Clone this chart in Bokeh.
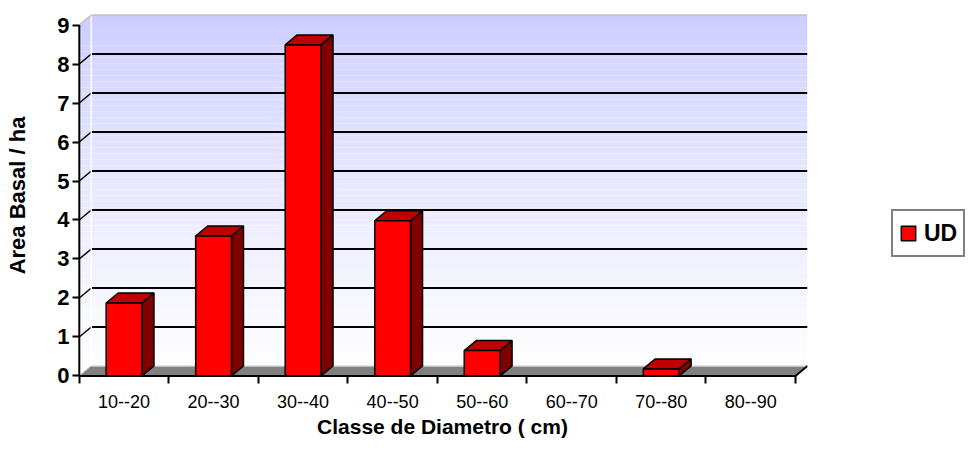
from bokeh.plotting import figure
from bokeh.models import Range1d, FixedTicker, Legend, LegendItem, ColumnDataSource
from bokeh.embed import file_html
from bokeh.resources import INLINE

# ---------------- data ----------------
categories = ["10--20", "20--30", "30--40", "40--50", "50--60", "60--70", "70--80", "80--90"]
values = [1.87, 3.59, 8.49, 3.98, 0.65, 0.0, 0.18, 0.0]
y_ticks = [0, 1, 2, 3, 4, 5, 6, 7, 8, 9]
series_name = "UD"
x_title = "Classe de Diametro ( cm)"
y_title = "Area Basal / ha"

# ---------------- style / geometry ----------------
FONT = "Liberation Sans"
PX_CAT = 89.5          # px per category
PX_UNIT = 39.0         # px per y unit
DX = 12 / PX_CAT       # 3D depth offset (x) in data units
DY = 10 / PX_UNIT      # 3D depth offset (y) in data units
BAR_W = 0.4
PADX = 0.02
PADY = 0.04
n = len(categories)
YMAX = max(y_ticks)
centers = [i + 1 for i in range(n)]

x0, x1 = 0.5 - PADX, n + 0.5 + DX
y0, y1 = -PADY, YMAX + DY + PADY
frame_w = round((x1 - x0) * PX_CAT)
frame_h = round((y1 - y0) * PX_UNIT)
W, H = 962, 436
left_b, top_b = 77, 13
right_b = W - left_b - frame_w
bottom_b = H - top_b - frame_h

p = figure(frame_width=frame_w, frame_height=frame_h,
           x_range=Range1d(x0, x1), y_range=Range1d(y0, y1),
           output_backend="svg", toolbar_location=None,
           min_border_left=left_b, min_border_top=top_b,
           min_border_right=right_b, min_border_bottom=bottom_b)
p.outline_line_color = None
p.background_fill_color = "white"
p.grid.visible = False

# ---- wall gradient (top #ccccff -> bottom white) ----
N = 60
gx_l, gx_r = 0.5, n + 0.5 + DX
g_b, g_t = 0.0, YMAX + DY
tops, bots, cols = [], [], []
for k in range(N):
    b = g_b + (g_t - g_b) * k / N
    t = g_b + (g_t - g_b) * (k + 1) / N
    f = 1 - (k + 0.5) / N   # 1 at bottom, 0 at top
    r = round(204 + (255 - 204) * f ** 0.8)
    cols.append("#%02x%02xff" % (r, r))
    bots.append(b)
    tops.append(t)
p.quad(left=gx_l, right=gx_r, bottom=bots, top=tops, fill_color=cols, line_color=None)
# white corners outside the walls
p.patch([0.5 - PADX, 0.5, 0.5 + DX, 0.5 + DX, 0.5 - PADX],
        [YMAX, YMAX, YMAX + DY, y1, y1], fill_color="white", line_color=None)
p.patch([n + 0.5, n + 0.5 + DX, n + 0.5 + DX], [0, 0, DY], fill_color="white", line_color=None)

# ---- floor ----
p.patch([0.5, n + 0.5, n + 0.5 + DX, 0.5 + DX], [0, 0, DY, DY], fill_color="#808080", line_color=None)
p.segment(x0=[0.5 + DX], y0=[DY], x1=[n + 0.5 + DX], y1=[DY], line_color="#d8d8d8", line_width=1.5)
p.segment(x0=[0.5], y0=[0], x1=[0.5 + DX], y1=[DY], line_color="#b0b0b0", line_width=1)

# ---- gridlines (back wall + left wall) ----
gk = [k for k in y_ticks if 0 < k < YMAX]
p.segment(x0=[0.5 + DX] * len(gk), y0=[k + DY for k in gk], x1=[n + 0.5 + DX] * len(gk),
          y1=[k + DY for k in gk], line_color="black", line_width=2)
p.segment(x0=[0.5] * len(gk), y0=gk, x1=[0.5 + DX] * len(gk), y1=[k + DY for k in gk],
          line_color="black", line_width=1.5)
# wall corner and top edge
p.segment(x0=[0.5 + DX], y0=[DY], x1=[0.5 + DX], y1=[YMAX + DY], line_color="white", line_width=1.5)
p.segment(x0=[0.5, 0.5 + DX], y0=[YMAX, YMAX + DY], x1=[0.5 + DX, n + 0.5 + DX],
          y1=[YMAX + DY, YMAX + DY], line_color="#c0c0c0", line_width=1.5)

# ---- axes lines (front plane) ----
p.segment(x0=[0.5], y0=[0], x1=[0.5], y1=[YMAX], line_color="black", line_width=2)

# ---- bars (3D) ----
bx = [c for c, v in zip(centers, values) if v > 0]
bv = [v for v in values if v > 0]
L = [c - BAR_W / 2 for c in bx]
R = [c + BAR_W / 2 for c in bx]
side_xs = [[r, r + DX, r + DX, r] for r in R]
side_ys = [[0, DY, v + DY, v] for v in bv]
top_xs = [[l, r, r + DX, l + DX] for l, r in zip(L, R)]
top_ys = [[v, v, v + DY, v + DY] for v in bv]
p.patches(side_xs, side_ys, fill_color="#800000", line_color="black", line_width=1.5)
p.patches(top_xs, top_ys, fill_color="#c00000", line_color="black", line_width=1.5)
src = ColumnDataSource(dict(left=L, right=R, top=bv, bottom=[0] * len(bv)))
front = p.quad(left="left", right="right", top="top", bottom="bottom", source=src,
               fill_color="#ff0000", line_color="black", line_width=1.5)

p.segment(x0=[0.5, n + 0.5], y0=[0, 0], x1=[n + 0.5, n + 0.5 + DX], y1=[0, DY],
          line_color="black", line_width=2)

# ---- x axis ----
xa = p.xaxis[0]
xa.ticker = FixedTicker(ticks=centers, minor_ticks=[c - 0.5 for c in centers] + [n + 0.5])
xa.major_label_overrides = {c: lab for c, lab in zip(centers, categories)}
xa.axis_line_color = None
xa.major_tick_line_color = None
xa.major_tick_out = 0
xa.major_tick_in = 0
xa.minor_tick_line_color = "black"
xa.minor_tick_line_width = 2
xa.minor_tick_out = 6
xa.minor_tick_in = 2
xa.major_label_standoff = 11
xa.major_label_text_font = FONT
xa.major_label_text_font_size = "18px"
xa.major_label_text_color = "black"
xa.axis_label = x_title
xa.axis_label_text_font = FONT
xa.axis_label_text_font_style = "bold"
xa.axis_label_text_font_size = "21px"
xa.axis_label_text_color = "black"
xa.axis_label_standoff = 4

# ---- y axis ----
ya = p.yaxis[0]
ya.ticker = FixedTicker(ticks=y_ticks, minor_ticks=[])
ya.axis_line_color = None
ya.major_tick_line_color = "black"
ya.major_tick_line_width = 2
ya.major_tick_out = 5
ya.major_tick_in = 2
ya.minor_tick_line_color = None
ya.major_label_standoff = 3
ya.major_label_text_font = FONT
ya.major_label_text_font_style = "bold"
ya.major_label_text_font_size = "22px"
ya.major_label_text_color = "black"
ya.axis_label = y_title
ya.axis_label_text_font = FONT
ya.axis_label_text_font_style = "bold"
ya.axis_label_text_font_size = "22px"
ya.axis_label_text_color = "black"
ya.axis_label_standoff = 24

# ---- legend (right panel) ----
legend = Legend(items=[LegendItem(label=series_name, renderers=[front])],
                location=(84, 120), margin=0, padding=6, spacing=0,
                glyph_width=18, glyph_height=18, label_standoff=7, label_height=32,
                label_text_font=FONT, label_text_font_style="bold",
                label_text_font_size="23px", label_text_color="black",
                border_line_color="black", border_line_width=2,
                background_fill_color="white", background_fill_alpha=1.0)
p.add_layout(legend, "right")

open("out.html", "w").write(file_html(p, INLINE))
